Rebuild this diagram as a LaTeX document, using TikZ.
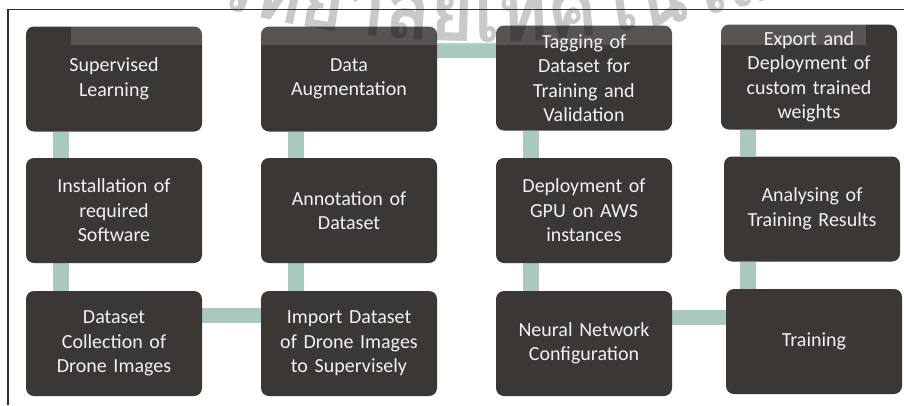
\documentclass[tikz,border=0pt]{standalone}
\usepackage{fontspec}
\setmainfont{Carlito}
\newfontfamily\wmfont[Script=Thai, FakeStretch=0.9]{Loma}
\usetikzlibrary{backgrounds}
\definecolor{boxdark}{HTML}{3A3734}
\definecolor{boxtext}{HTML}{F2F2F2}
\definecolor{linkgreen}{HTML}{A9C9BC}
\definecolor{framecol}{HTML}{2E2E2E}
\newlength\wmw
\newcommand\wmstyle{\wmfont\bfseries\fontsize{84}{84}\selectfont}
\newcommand\wmglyphs{วิ,ท,ย,า,ลั,ย,เ,ท,ค,โ,น,โ,ล,ยี,สุ}
\begin{document}
% widths of the watermark letters, measured before the picture
\foreach \g [count=\k] in \wmglyphs {%
  \settowidth\wmw{\wmstyle\g}%
  \expandafter\xdef\csname wmwidth\k\endcsname{\the\wmw}%
}%
\begin{tikzpicture}[x=1pt,y=-1pt,
  stepbox/.style={fill=boxdark, rounded corners=8pt, minimum width=176pt,
    minimum height=105pt, text width=168pt, align=center, text=boxtext,
    inner sep=0pt, font=\fontsize{20}{24.5}\selectfont},
  link/.style={draw=linkgreen, line width=15.5pt},
  wmtext/.style={anchor=base, inner sep=0pt, text=black, text opacity=0.21,
    font=\wmstyle}]
\useasboundingbox (0,0) rectangle (904,405);

% process steps
\node[stepbox] (sl)   at (114,79)    {Supervised\\Learning};
\node[stepbox] (inst) at (114,210.5) {Installation of\\required\\Software};
\node[stepbox] (coll) at (114,343.5) {Dataset\\Collection of\\Drone Images};
\node[stepbox] (imp)  at (349,343.5) {Import Dataset\\of Drone Images\\to Supervisely};
\node[stepbox] (ann)  at (349,210.5) {Annotation of\\Dataset};
\node[stepbox] (aug)  at (349,79)    {Data\\Augmentation};
\node[stepbox] (tag)  at (584,78)    {Tagging of\\Dataset for\\Training and\\Validation};
\node[stepbox] (gpu)  at (584,210.5) {Deployment of\\GPU on AWS\\instances};
\node[stepbox] (nn)   at (584,343.5) {Neural Network\\Configuration};
\node[stepbox] (trn)  at (814,341.5) {Training};
\node[stepbox] (ana)  at (812,209)   {Analysing of\\Training Results};
\node[stepbox] (exp)  at (809,77)    {Export and\\Deployment of\\custom trained\\weights};

% connecting bars behind the steps
\begin{scope}[on background layer]
  \fill[white] (0,0) rectangle (904,405);
  \draw[link] ([xshift=-53pt]sl.south)   -- ([xshift=-53pt]inst.north);
  \draw[link] ([xshift=-53pt]inst.south) -- ([xshift=-53pt]coll.north);
  \draw[link] ([yshift=28pt]coll.east)   -- ([yshift=28pt]imp.west);
  \draw[link] ([xshift=-53pt]imp.north)  -- ([xshift=-53pt]ann.south);
  \draw[link] ([xshift=-53pt]ann.north)  -- ([xshift=-53pt]aug.south);
  \draw[link] ([yshift=28.5pt]aug.east)  -- ([yshift=27.5pt]tag.west);
  \draw[link] ([xshift=-53pt]tag.south)  -- ([xshift=-53pt]gpu.north);
  \draw[link] ([xshift=-53pt]gpu.south)  -- ([xshift=-53pt]nn.north);
  \draw[link] ([yshift=26pt]nn.east)     -- ([yshift=24pt]trn.west);
  \draw[link] ([xshift=-66pt]trn.north)  -- ([xshift=-64pt]ana.south);
  \draw[link] ([xshift=-64pt]ana.north)  -- ([xshift=-61pt]exp.south);
\end{scope}

% light band and arched watermark lettering
\fill[white, opacity=0.15] (71,20) rectangle (866,45);
\def\wmR{1000}
\def\wmCx{479}
\def\wmBy{42}
\pgfmathsetmacro\wmInit{asin((208-\wmCx)/\wmR)*pi/180*\wmR}
\xdef\wmS{\wmInit}
\foreach \g [count=\i] in \wmglyphs {
  \edef\wmcur{\csname wmwidth\i\endcsname}
  \pgfmathsetmacro\wmPhi{(\wmS+0.5*\wmcur)/\wmR*180/pi}
  \pgfmathsetmacro\wmX{\wmCx+\wmR*sin(\wmPhi)}
  \pgfmathsetmacro\wmY{\wmBy-\wmR*(1-cos(\wmPhi))}
  \node[wmtext, rotate=\wmPhi] (wm\i) at (\wmX,\wmY) {\g};
  \pgfmathsetmacro\wmT{\wmS+\wmcur}
  \xdef\wmS{\wmT}
}

% frame
\draw[framecol, line width=1.3pt] (8,405) -- (8,9.5) -- (904,9.5);
\end{tikzpicture}
\end{document}
